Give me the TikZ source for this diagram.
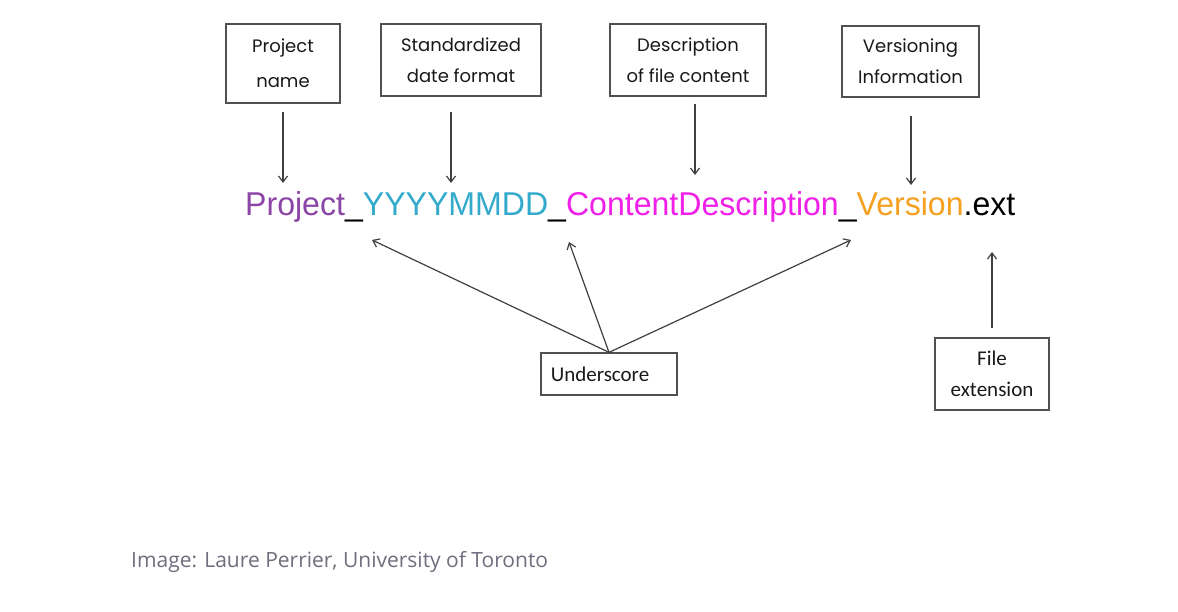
\documentclass[tikz,border=0pt]{standalone}
\usepackage{fontspec}
\setmainfont{Liberation Sans}
\newfontfamily\boxfont{Poppins}
\newfontfamily\calfont{Carlito}
\newfontfamily\capfont{Open Sans}
\usetikzlibrary{arrows.meta}
\definecolor{boxgray}{HTML}{505050}
\definecolor{arrgray}{HTML}{404040}
\definecolor{cpurple}{HTML}{8B45A6}
\definecolor{ccyan}{HTML}{33AACC}
\definecolor{cmagenta}{HTML}{F020E8}
\definecolor{corange}{HTML}{F5A020}
\definecolor{capgray}{HTML}{6E6E7E}
\tikzset{
  labelbox/.style={draw=boxgray, line width=1.3pt, inner sep=0pt, align=center,
    font=\boxfont\fontsize{18}{31}\selectfont, text=black!90},
  calbox/.style={draw=boxgray, line width=1.3pt, inner sep=0pt, align=center,
    font=\calfont\fontsize{21}{31}\selectfont, text=black!90},
  pointer/.style={draw=arrgray, line width=1.2pt, -{Straight Barb[length=6pt,width=9pt]}}
}
\begin{document}
\begin{tikzpicture}[x=1pt,y=-1pt]
\useasboundingbox[fill=white] (0,0) rectangle (1178,612);
% label boxes
\node[labelbox, minimum width=114pt, minimum height=79pt, font=\boxfont\fontsize{18}{35}\selectfont] (pn) at (283,63.5) {Project\\name};
\node[labelbox, minimum width=160pt, minimum height=72pt] (sd) at (461,60) {Standardized\\date format};
\node[labelbox, minimum width=156pt, minimum height=72pt] (dc) at (688,60) {Description\\of file content};
\node[labelbox, minimum width=137pt, minimum height=71pt] (vi) at (910.5,61.5) {Versioning\\Information};
\node[calbox, minimum width=136pt, minimum height=42pt] (us) at (609,374) {Underscore\hspace*{18pt}};
\node[calbox, minimum width=114pt, minimum height=72pt] (fe) at (992,374) {File\\extension};
% file name
\node[anchor=base west, inner sep=0pt, font=\fontsize{33}{36}\selectfont] (fn) at (245,216)
  {\scalebox{0.972}[1]{\textcolor{cpurple}{Project}\_\textcolor{ccyan}{YYYYMMDD}\_\textcolor{cmagenta}{ContentDescription}\_\textcolor{corange}{Version}.ext}};
% arrow targets
\coordinate (tp) at (283,183);
\coordinate (td) at (451,183);
\coordinate (tc) at (695,175);
\coordinate (tv) at (911,185);
\coordinate (te) at (992,252);
\coordinate (u1) at (372,240);
\coordinate (u2) at (569,242);
\coordinate (u3) at (851,240);
\coordinate (sp) at (283,112);
\coordinate (ss) at (451,112);
\coordinate (sc) at (695,104);
\coordinate (sv) at (911,116);
\coordinate (se) at (992,328);
% arrows
\draw[pointer] (sp) -- (tp);
\draw[pointer] (ss) -- (td);
\draw[pointer] (sc) -- (tc);
\draw[pointer] (sv) -- (tv);
\draw[pointer] (se) -- (te);
\draw[pointer] (us.north) -- (u1);
\draw[pointer] (us.north) -- (u2);
\draw[pointer] (us.north) -- (u3);
% caption
\node[anchor=west, inner sep=0pt, text=capgray, font=\capfont\fontsize{21}{24}\selectfont] (cap) at (131,562)
  {Image: Laure Perrier, University of Toronto};
\end{tikzpicture}
\end{document}
